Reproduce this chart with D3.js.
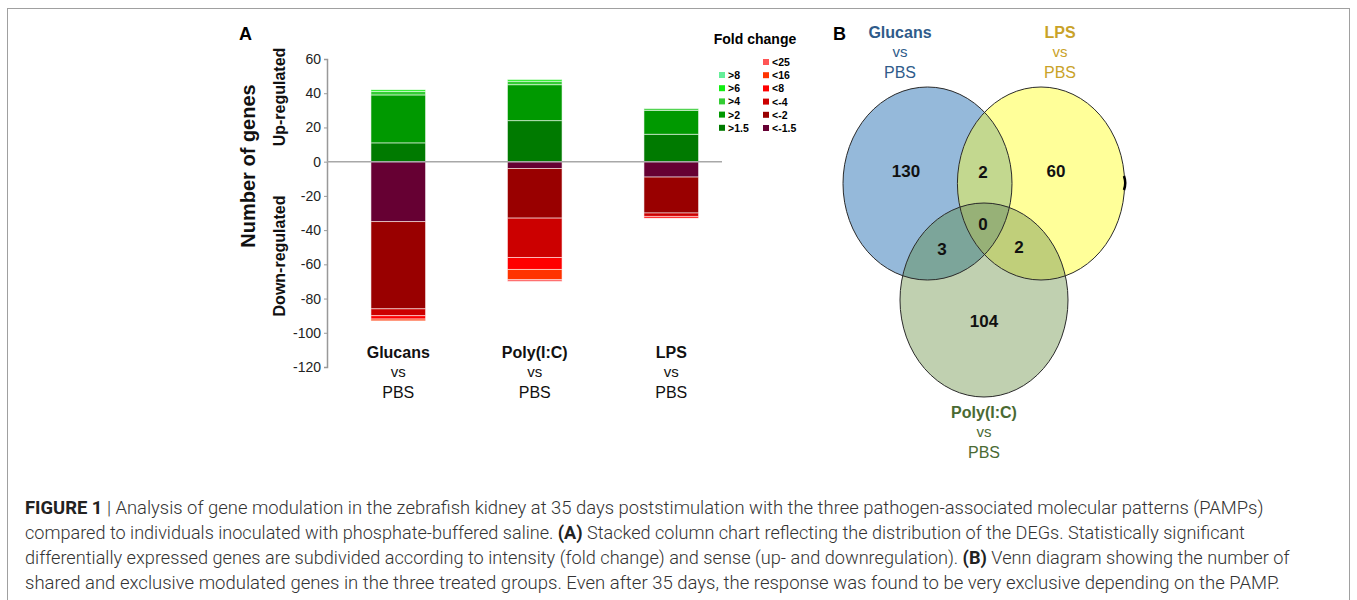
<!DOCTYPE html>
<html><head><meta charset="utf-8">
<script src="https://cdn.jsdelivr.net/npm/d3@7/dist/d3.min.js"></script>
<style>body{margin:0;background:#fff}svg{display:block;font-family:"Liberation Sans",Arial,sans-serif}</style>
</head><body>
<svg id="c" width="1357" height="600"></svg>
<script>
// ---- Data ----
const categories = ["Glucans", "Poly(I:C)", "LPS"];
const upKeys = [">1.5", ">2", ">4", ">6", ">8"];
const downKeys = ["<-1.5", "<-2", "<-4", "<8", "<16", "<25"];
const upColors = ["#007a00", "#009900", "#33cc33", "#11ee11", "#66ee99"];
const downColors = ["#660033", "#990000", "#cc0000", "#ff0000", "#ff3300", "#ff5555"];
const glucansUp = [11, 28, 2, 1, 0];
const polyUp = [24, 21, 2, 1, 0];
const lpsUp = [16, 14, 1, 0, 0];
const glucansDown = [35, 51, 4, 2, 1, 0];
const polyDown = [4, 29, 23, 7, 6, 1];
const lpsDown = [9, 21, 2, 1, 0, 0];
const yTicks = [60, 40, 20, 0, -20, -40, -60, -80, -100, -120];
const vennSets = ["Glucans", "LPS", "Poly(I:C)"];
const vennCounts = {G: 130, L: 60, P: 104, GL: 2, GP: 3, LP: 2, GLP: 0};

const svg = d3.select("#c");
// frame
svg.append("rect").attr("x", 7.5).attr("y", 8.5).attr("width", 1342).attr("height", 640)
  .attr("fill", "none").attr("stroke", "#a0a0a0").attr("stroke-width", 1);

// ---- Panel A ----
const y = d3.scaleLinear().domain([-120, 60]).range([367, 59]);
const x = d3.scaleBand().domain(categories).range([330, 739.5]).paddingInner(0.6).paddingOuter(0.3);

const axisG = svg.append("g").attr("transform", "translate(327,0)")
  .call(d3.axisLeft(y).tickValues(yTicks).tickSize(3).tickPadding(3).tickFormat(d => String(d)));
axisG.select(".domain").attr("stroke", "#999").attr("stroke-width", 1.5);
axisG.selectAll(".tick line").attr("stroke", "#999");
axisG.selectAll(".tick text").attr("font-size", 14).attr("fill", "#222")
  .attr("font-family", "Liberation Sans, Arial, sans-serif");

const upData = [glucansUp, polyUp, lpsUp];
const downData = [glucansDown, polyDown, lpsDown];
const segs = [];
categories.forEach((c, i) => {
  let acc = 0;
  upData[i].forEach((v, k) => { if (v > 0) segs.push({c, y0: acc, y1: acc + v, color: upColors[k]}); acc += v; });
  acc = 0;
  downData[i].forEach((v, k) => { if (v > 0) segs.push({c, y0: acc, y1: acc - v, color: downColors[k]}); acc -= v; });
});
svg.append("g").selectAll("rect").data(segs).join("rect")
  .attr("x", d => x(d.c)).attr("width", x.bandwidth())
  .attr("y", d => y(Math.max(d.y0, d.y1))).attr("height", d => Math.abs(y(d.y0) - y(d.y1)))
  .attr("fill", d => d.color).attr("stroke", "rgba(255,255,255,0.55)").attr("stroke-width", 1);

// zero line
svg.append("line").attr("x1", 327).attr("x2", 722).attr("y1", y(0)).attr("y2", y(0))
  .attr("stroke", "#a8a8a8").attr("stroke-width", 1.5);

// category labels
const catG = svg.append("g").selectAll("g").data(categories).join("g")
  .attr("transform", d => `translate(${x(d) + x.bandwidth() / 2},0)`).attr("text-anchor", "middle").attr("fill", "#111");
catG.append("text").attr("y", 358).attr("font-size", 16).attr("font-weight", "bold").text(d => d);
catG.append("text").attr("y", 377).attr("font-size", 15).text("vs");
catG.append("text").attr("y", 398).attr("font-size", 16).text("PBS");

// titles
svg.append("text").attr("x", 239).attr("y", 40).attr("font-size", 18).attr("font-weight", "bold").text("A");
svg.append("text").attr("transform", "translate(255,166) rotate(-90)").attr("text-anchor", "middle")
  .attr("font-size", 20).attr("font-weight", "bold").attr("fill", "#111").text("Number of genes");
svg.append("text").attr("transform", "translate(285,97) rotate(-90)").attr("text-anchor", "middle")
  .attr("font-size", 16).attr("font-weight", "bold").attr("fill", "#111").text("Up-regulated");
svg.append("text").attr("transform", "translate(285,256) rotate(-90)").attr("text-anchor", "middle")
  .attr("font-size", 16).attr("font-weight", "bold").attr("fill", "#111").text("Down-regulated");

// legend
svg.append("text").attr("x", 755).attr("y", 44).attr("text-anchor", "middle").attr("font-size", 14)
  .attr("font-weight", "bold").text("Fold change");
const legUp = upKeys.map((k, i) => ({k, color: upColors[i]})).reverse();
const legDown = downKeys.map((k, i) => ({k, color: downColors[i]})).reverse();
const lg1 = svg.append("g").selectAll("g").data(legUp).join("g")
  .attr("transform", (d, i) => `translate(719,${75 + i * 13.2})`);
lg1.append("rect").attr("x", 0).attr("y", -3).attr("width", 6).attr("height", 6).attr("fill", d => d.color);
lg1.append("text").attr("x", 9).attr("y", 4).attr("font-size", 10.5).attr("font-weight", "bold").text(d => d.k);
const lg2 = svg.append("g").selectAll("g").data(legDown).join("g")
  .attr("transform", (d, i) => `translate(763,${62 + i * 13.2})`);
lg2.append("rect").attr("x", 0).attr("y", -3).attr("width", 6).attr("height", 6).attr("fill", d => d.color);
lg2.append("text").attr("x", 9).attr("y", 4).attr("font-size", 10.5).attr("font-weight", "bold").text(d => d.k);

// ---- Panel B (Venn) ----
svg.append("text").attr("x", 833).attr("y", 40).attr("font-size", 18).attr("font-weight", "bold").text("B");
const ell = [
  {id: "G", cx: 927.5, cy: 183.5, rx: 84.5, ry: 96.5, fill: "#95b9da"},
  {id: "L", cx: 1041, cy: 183.5, rx: 83.6, ry: 96.5, fill: "#ffff99"},
  {id: "P", cx: 984, cy: 300, rx: 84, ry: 97, fill: "#c0d0b0"}
];
const defs = svg.append("defs");
ell.forEach(e => defs.append("clipPath").attr("id", "clip" + e.id).append("ellipse")
  .attr("cx", e.cx).attr("cy", e.cy).attr("rx", e.rx).attr("ry", e.ry));
const vg = svg.append("g");
ell.forEach(e => vg.append("ellipse").attr("cx", e.cx).attr("cy", e.cy).attr("rx", e.rx).attr("ry", e.ry).attr("fill", e.fill));
function inter(a, b, color) {
  const B = ell.find(e => e.id === b);
  vg.append("g").attr("clip-path", `url(#clip${a})`).append("ellipse")
    .attr("cx", B.cx).attr("cy", B.cy).attr("rx", B.rx).attr("ry", B.ry).attr("fill", color);
}
inter("G", "L", "#c3d88f");
inter("G", "P", "#7ca59a");
inter("L", "P", "#c0cf7a");
vg.append("g").attr("clip-path", "url(#clipG)").append("g").attr("clip-path", "url(#clipL)").append("ellipse")
  .attr("cx", 984).attr("cy", 300).attr("rx", 84).attr("ry", 97).attr("fill", "#97b177");
ell.forEach(e => vg.append("ellipse").attr("cx", e.cx).attr("cy", e.cy).attr("rx", e.rx).attr("ry", e.ry)
  .attr("fill", "none").attr("stroke", "#2a2a2a").attr("stroke-width", 1));
// small dark mark on LPS right edge
vg.append("path").attr("d", "M1124,176 Q1126.5,183 1124,190").attr("stroke", "#000").attr("stroke-width", 2.5).attr("fill", "none");

const vennLabels = [
  {k: "G", x: 906, y: 177}, {k: "GL", x: 983, y: 178}, {k: "L", x: 1056, y: 177},
  {k: "GLP", x: 983, y: 230}, {k: "GP", x: 942, y: 255}, {k: "LP", x: 1019, y: 253}, {k: "P", x: 984, y: 327}
];
vg.selectAll("text.n").data(vennLabels).join("text").attr("class", "n")
  .attr("x", d => d.x).attr("y", d => d.y).attr("text-anchor", "middle").attr("font-size", 17)
  .attr("font-weight", "bold").attr("fill", "#111").text(d => vennCounts[d.k]);

const vennTitles = [
  {name: vennSets[0], x: 900, y: 38, color: "#2f5b8a"},
  {name: vennSets[1], x: 1060, y: 38, color: "#c9a228"},
  {name: vennSets[2], x: 984, y: 418, color: "#4a6a33"}
];
vennTitles.forEach(t => {
  const g = svg.append("g").attr("text-anchor", "middle").attr("fill", t.color);
  g.append("text").attr("x", t.x).attr("y", t.y).attr("font-size", 16).attr("font-weight", "bold").text(t.name);
  g.append("text").attr("x", t.x).attr("y", t.y + 19).attr("font-size", 15).text("vs");
  g.append("text").attr("x", t.x).attr("y", t.y + 40).attr("font-size", 16).text("PBS");
});

// ---- Caption ----
const capLines = [
  {parts: [["FIGURE 1", true], [" | Analysis of gene modulation in the zebrafish kidney at 35 days poststimulation with the three pathogen-associated molecular patterns (PAMPs)", false]], w: 1239},
  {parts: [["compared to individuals inoculated with phosphate-buffered saline. ", false], ["(A)", true], [" Stacked column chart reflecting the distribution of the DEGs. Statistically significant", false]], w: 1221},
  {parts: [["differentially expressed genes are subdivided according to intensity (fold change) and sense (up- and downregulation). ", false], ["(B)", true], [" Venn diagram showing the number of", false]], w: 1265},
  {parts: [["shared and exclusive modulated genes in the three treated groups. Even after 35 days, the response was found to be very exclusive depending on the PAMP.", false]], w: 1256}
];
capLines.forEach((ln, i) => {
  const t = svg.append("text").attr("x", 0).attr("y", 0).attr("font-size", 17.5).attr("fill", "#333")
    .attr("font-family", "Roboto, 'Liberation Sans', sans-serif").attr("font-weight", 300);
  ln.parts.forEach(p => t.append("tspan").attr("font-weight", p[1] ? "bold" : 300).attr("fill", p[1] ? "#222" : "#333").text(p[0]));
  const wNat = t.node().getComputedTextLength();
  const sx = ln.w / wNat;
  t.attr("transform", `translate(25,${514 + i * 25}) scale(${sx},1)`);
});
</script>
</body></html>
